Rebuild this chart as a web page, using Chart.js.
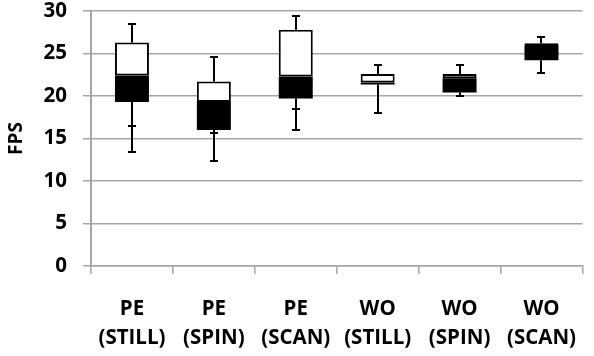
<!DOCTYPE html>
<html>
<head>
<meta charset="utf-8">
<script src="https://cdn.jsdelivr.net/npm/chart.js@4/dist/chart.umd.min.js"></script>
<style>
  html, body { margin: 0; padding: 0; background: #fff; overflow: hidden; }
  #wrap { width: 597px; height: 356px; }
</style>
</head>
<body>
<div id="wrap"><canvas id="c" width="597" height="356"></canvas></div>
<script>
const categories = [['PE','(STILL)'], ['PE','(SPIN)'], ['PE','(SCAN)'], ['WO','(STILL)'], ['WO','(SPIN)'], ['WO','(SCAN)']];
const whiskerMax = [28.5, 24.6, 29.45, 23.7, 23.7, 26.9];
const q3 = [26.3, 21.7, 27.8, 22.6, 22.6, 26.2];
const median = [22.4, 19.3, 22.3, 21.6, 22.1, 26.0];
const q1 = [19.3, 16.0, 19.7, 21.35, 20.4, 24.2];
const innerLow = [16.5, 15.7, 18.5, null, null, null];
const whiskerMin = [13.45, 12.4, 16.0, 18.0, 20.0, 22.65];
const yTicks = [0, 5, 10, 15, 20, 25, 30];

const FONT = '"Open Sans"';
const gridGray = '#a6a6a6';

const whiskerPlugin = {
  id: 'whiskers',
  beforeDatasetsDraw(chart) {
    const ctx = chart.ctx;
    const xs = chart.scales.x, ys = chart.scales.y;
    ctx.save();
    ctx.strokeStyle = '#000';
    ctx.lineWidth = 2;
    const half = 4;
    categories.forEach((c, i) => {
      const x = Math.round(xs.getPixelForValue(i));
      ctx.beginPath();
      ctx.moveTo(x, ys.getPixelForValue(whiskerMax[i])); ctx.lineTo(x, ys.getPixelForValue(q3[i]));
      ctx.moveTo(x, ys.getPixelForValue(q1[i])); ctx.lineTo(x, ys.getPixelForValue(whiskerMin[i]));
      ctx.stroke();
      const caps = [whiskerMax[i], whiskerMin[i]];
      if (innerLow[i] !== null) caps.push(innerLow[i]);
      caps.forEach(v => {
        const y = Math.round(ys.getPixelForValue(v));
        ctx.beginPath();
        ctx.moveTo(x - half, y); ctx.lineTo(x + half, y);
        ctx.stroke();
      });
    });
    ctx.restore();
  }
};

new Chart(document.getElementById('c'), {
  type: 'bar',
  data: {
    labels: categories,
    datasets: [
      {
        label: 'lower',
        data: q1.map((v, i) => [v, median[i]]),
        backgroundColor: '#000',
        borderWidth: 0,
        grouped: false,
        categoryPercentage: 1,
        barPercentage: 0.415
      },
      {
        label: 'upper',
        data: median.map((v, i) => [v, q3[i]]),
        backgroundColor: '#fff',
        borderColor: '#000',
        borderWidth: 2,
        borderSkipped: false,
        grouped: false,
        categoryPercentage: 1,
        barPercentage: 0.415
      }
    ]
  },
  options: {
    responsive: false,
    animation: false,
    layout: { padding: { top: 11, right: 0, bottom: 0, left: 5 } },
    plugins: {
      legend: { display: false },
      tooltip: { enabled: false }
    },
    scales: {
      x: {
        offset: true,
        grid: {
          display: true,
          drawOnChartArea: false,
          drawTicks: true,
          tickLength: 8,
          color: gridGray,
          lineWidth: 1.5,
          offset: true
        },
        border: { display: true, color: gridGray, width: 1.5 },
        ticks: {
          color: '#000',
          font: { family: FONT, size: 20.5, weight: 'bold', lineHeight: 1.415 },
          padding: 21,
          maxRotation: 0,
          autoSkip: false
        },
        afterFit(scale) { scale.height = 90; }
      },
      y: {
        min: 0,
        max: 30,
        afterBuildTicks(scale) { scale.ticks = yTicks.map(v => ({ value: v })); },
        grid: {
          color: gridGray,
          lineWidth: 1.5,
          drawTicks: true,
          tickLength: 8
        },
        border: { display: true, color: gridGray, width: 2 },
        ticks: {
          color: '#000',
          font: { family: FONT, size: 20.5, weight: 'bold' },
          padding: 16
        },
        title: {
          display: true,
          text: 'FPS',
          color: '#000',
          font: { family: FONT, size: 19, weight: 'bold' },
          padding: { top: 0, bottom: 0 }
        },
        afterFit(scale) { scale.width = 86; scale.paddingTop = 0; scale.paddingBottom = 0; }
      }
    }
  },
  plugins: [whiskerPlugin]
});
</script>
</body>
</html>
